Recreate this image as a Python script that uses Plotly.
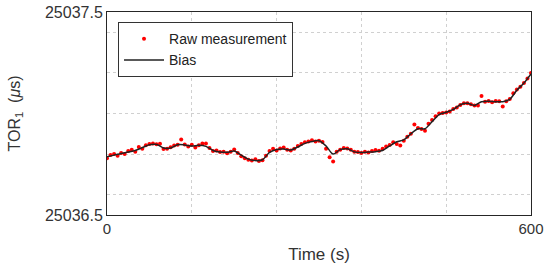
import plotly.graph_objects as go

# Bias (smooth) every 10 s, offsets from 25036
bias_t = list(range(0, 601, 10))
bias_off = [0.787, 0.795, 0.803, 0.810, 0.818, 0.832, 0.846, 0.848, 0.830, 0.830,
            0.846, 0.845, 0.840, 0.843, 0.838, 0.818, 0.810, 0.809, 0.815, 0.795,
            0.775, 0.768, 0.772, 0.808, 0.823, 0.825, 0.820, 0.835, 0.853, 0.862,
            0.866, 0.840, 0.800, 0.822, 0.826, 0.811, 0.808, 0.810, 0.812, 0.818,
            0.840, 0.861, 0.870, 0.900, 0.925, 0.925, 0.960, 0.995, 1.006, 1.020,
            1.043, 1.050, 1.040, 1.058, 1.060, 1.058, 1.058, 1.070, 1.115, 1.150,
            1.195]

# Raw measurements every 5 s, offsets from 25036
raw_t = list(range(0, 601, 5))
raw_off = [0.780, 0.795, 0.800, 0.792, 0.806, 0.800, 0.815, 0.822, 0.812, 0.835,
           0.826, 0.843, 0.850, 0.852, 0.848, 0.851, 0.825, 0.826, 0.834, 0.842,
           0.846, 0.872, 0.847, 0.838, 0.846, 0.832, 0.843, 0.852, 0.852, 0.830,
           0.815, 0.818, 0.810, 0.812, 0.804, 0.812, 0.823, 0.805, 0.790, 0.780,
           0.772, 0.768, 0.775, 0.766, 0.770, 0.792, 0.815, 0.826, 0.818, 0.828,
           0.832, 0.822, 0.818, 0.826, 0.840, 0.850, 0.858, 0.862, 0.868, 0.862,
           0.866, 0.860, 0.826, 0.785, 0.763, 0.812, 0.822, 0.830, 0.828, 0.822,
           0.812, 0.810, 0.805, 0.812, 0.808, 0.815, 0.820, 0.816, 0.826, 0.838,
           0.845, 0.858, 0.850, 0.842, 0.866, 0.885, 0.900, 0.946, 0.928, 0.924,
           0.915, 0.950, 0.968, 0.986, 1.000, 1.002, 1.005, 1.010, 1.022, 1.030,
           1.042, 1.050, 1.050, 1.046, 1.040, 1.040, 1.086, 1.058, 1.062, 1.055,
           1.062, 1.060, 1.034, 1.060, 1.072, 1.100, 1.118, 1.132, 1.150, 1.172,
           1.200]

BASE = 25036
bias_v = [BASE + v for v in bias_off]
raw_v = [BASE + v for v in raw_off]

x_ticks = [0, 600]
x_grid = [120, 240, 360, 480]
y_ticks = [25036.5, 25037.5]
y_grid = [25036.6, 25036.8, 25037.0, 25037.2, 25037.4]

FONT = "Liberation Sans, Arial, sans-serif"
GRID = dict(showgrid=True, gridcolor="#d0d0d0", griddash="dot", gridwidth=1, ticks="")

fig = go.Figure()
fig.add_trace(go.Scatter(x=raw_t, y=raw_v, mode="markers", name="Raw measurement",
                         marker=dict(color="#ff0000", size=4)))
fig.add_trace(go.Scatter(x=bias_t, y=bias_v, mode="lines", name="Bias",
                         line=dict(color="#222222", width=1.5, shape="spline", smoothing=0.8)))

fig.update_layout(
    width=544, height=275,
    margin=dict(l=107, r=13, t=12, b=60),
    paper_bgcolor="white", plot_bgcolor="white",
    font=dict(family=FONT, color="#333333", size=15),
    showlegend=True,
    legend=dict(x=0.026, y=0.95, xanchor="left", yanchor="top",
                bgcolor="white", bordercolor="#333333", borderwidth=1,
                font=dict(size=14, color="#222222"),
                tracegroupgap=0, itemwidth=40),
    xaxis=dict(range=[0, 600], tickmode="array", tickvals=x_ticks,
               showgrid=False, minor=dict(tickmode="array", tickvals=x_grid, **GRID),
               showline=True, linecolor="#262626", linewidth=1, mirror=True,
               ticks="", zeroline=False, automargin=False,
               tickfont=dict(size=15, color="#333333"),
               title=dict(text="Time (s)", font=dict(size=17, color="#333333"), standoff=12)),
    yaxis=dict(range=[25036.5, 25037.5], tickmode="array", tickvals=y_ticks,
               ticktext=["25036.5", "25037.5"],
               showgrid=False, minor=dict(tickmode="array", tickvals=y_grid, **GRID),
               showline=True, linecolor="#262626", linewidth=1, mirror=True,
               ticks="", zeroline=False, automargin=False,
               tickfont=dict(size=16, color="#333333"),
               title=dict(text="TOR<sub>1</sub>&nbsp;&nbsp;(<i>μ</i>s)",
                          font=dict(size=16, color="#333333"), standoff=20)),
)

fig.write_html("out.html", config={"displayModeBar": False},
               post_script="document.body.style.margin='0';document.body.style.padding='0';")
